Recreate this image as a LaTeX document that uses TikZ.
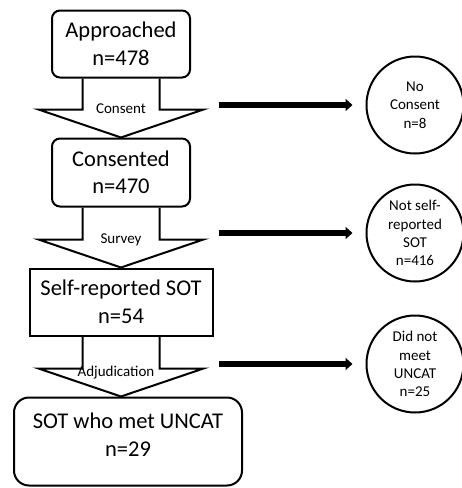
\documentclass[tikz,border=0pt]{standalone}
\usepackage{fontspec}
\setmainfont{Carlito}
\usepackage{tikz}
\usetikzlibrary{positioning,arrows.meta,calc}

\begin{document}
\begin{tikzpicture}[x=1pt,y=-1pt,
      stagebox/.style={draw,line width=2pt,rounded corners=8pt,minimum width=138pt,minimum height=67pt,align=center,font=\fontsize{22.5}{27.5}\selectfont},
      outcome/.style={draw,circle,line width=2pt,minimum size=97pt,inner sep=0pt,align=center,font=\fontsize{15}{18.3}\selectfont},
      steplabel/.style={inner sep=1pt,font=\fontsize{15}{18}\selectfont},
      stage/.style={line width=2pt,line join=miter},
      outarrow/.style={line width=6pt,-{Triangle[length=7pt,width=12pt]},shorten >=13pt}]
    \useasboundingbox (0,0) rectangle (462,488);

    % main column
    \node[stagebox] (appr) at (121,44) {Approached\\n=478};
    \node[stagebox,minimum height=68pt,below=59pt of appr] (cons) {Consented\\n=470};
    \node[stagebox,sharp corners,minimum width=183pt,below=60pt of cons] (selfrep) {Self-reported SOT\\n=54};
    \node[stagebox,rounded corners=15pt,minimum width=228pt,minimum height=88pt,text depth=14pt,
      below=60pt of selfrep,xshift=7pt] (uncat) {SOT who met UNCAT\\n=29};

    % block arrows between the stages
    \draw[stage] ($(appr.south)+(-38.5,0)$) |- ($(cons.north)+(-82.5,-28)$) -- (cons.north)
      -- ($(cons.north)+(82.5,-28)$) -| ($(appr.south)+(38.5,0)$);
    \draw[stage] ($(cons.south)+(-38.5,0)$) |- ($(selfrep.north)+(-82.5,-28)$) -- (selfrep.north)
      -- ($(selfrep.north)+(82.5,-28)$) -| ($(cons.south)+(38.5,0)$);
    \draw[stage] ($(selfrep.south)+(-38.5,0)$) |- ($(uncat.north)+(-89.5,-28)$) -- ($(uncat.north)+(-7,0)$)
      -- ($(uncat.north)+(75.5,-28)$) -| ($(selfrep.south)+(38.5,0)$);
    \node[steplabel] (lcons) at ($(cons.north)+(0,-29)$) {Consent};
    \node[steplabel] (lsurv) at ($(selfrep.north)+(0,-28)$) {Survey};
    \node[steplabel] (ladj) at ($(uncat.north)+(-12,-24)$) {Adjudication};

    % exclusions
    \node[outcome] (nocons) at (415,105) {No\\Consent\\n=8};
    \node[outcome] (notself) at (415,233) {Not self-\\reported\\SOT\\n=416};
    \node[outcome] (notmet) at (415,364) {Did not\\meet\\UNCAT\\n=25};
    \coordinate[left=147pt of nocons.west] (s1);
    \coordinate[left=147pt of notself.west] (s2);
    \coordinate[left=147pt of notmet.west] (s3);
    \draw[outarrow] (s1) -- (nocons.west);
    \draw[outarrow] (s2) -- (notself.west);
    \draw[outarrow] (s3) -- (notmet.west);
  \end{tikzpicture}
\end{document}
